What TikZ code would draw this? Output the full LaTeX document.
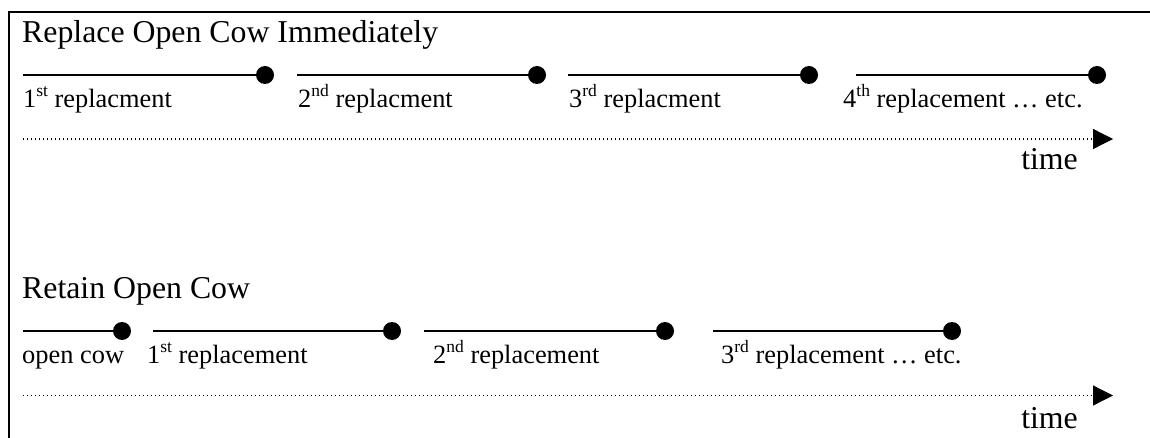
\documentclass[tikz,border=0pt]{standalone}
\usepackage{fontspec}
\setmainfont{Liberation Serif}
\usetikzlibrary{arrows.meta}
% ordinal suffix, raised and set smaller
\newcommand\ordsup[1]{\raisebox{11pt}{\fontsize{17.5}{18}\selectfont #1}}

\begin{document}
\begin{tikzpicture}[x=1pt,y=-1pt,
  heading/.style={anchor=base west, inner sep=0pt, font=\fontsize{31.8}{36}\selectfont},
  lbl/.style={anchor=base west, inner sep=0pt, font=\fontsize{26.4}{30}\selectfont},
  timelbl/.style={anchor=base east, inner sep=0pt, font=\fontsize{31.8}{36}\selectfont},
  seg/.style={line width=1.8pt},
  endpt/.style={circle, fill=black, inner sep=0pt, minimum size=18pt},
  axis/.style={line width=1.2pt, dash pattern=on 1.2pt off 2.8pt,
               -{Triangle[length=20pt,width=20pt]}},
  frameline/.style={line width=2pt, line join=miter}]
\useasboundingbox (0,0) rectangle (1150,438);

% frame (top and left edges)
\coordinate (fbl) at (8.5,438);
\coordinate (ftl) at (8.5,12);
\coordinate (ftr) at (1150,12);
\draw[frameline] (fbl) -- (ftl) -- (ftr);

% ---------- Replace open cow immediately ----------
\node[heading] (h1) at (22,43) {Replace Open Cow Immediately};

\coordinate (a1) at (23,75);  \node[endpt] (b1) at (265,75) {};
\coordinate (a2) at (297,75); \node[endpt] (b2) at (537,75) {};
\coordinate (a3) at (568,75); \node[endpt] (b3) at (809,75) {};
\coordinate (a4) at (856,75); \node[endpt] (b4) at (1097,75) {};
\foreach \i in {1,...,4} \draw[seg] (a\i) -- (b\i.center);

\node[lbl] (la1) at (23,108)  {1\ordsup{st} replacment};
\node[lbl] (la2) at (298,108) {2\ordsup{nd} replacment};
\node[lbl] (la3) at (569,108) {3\ordsup{rd} replacment};
\node[lbl] (la4) at (843,108) {4\ordsup{th} replacement … etc.};

\coordinate (ts1) at (23,139);
\coordinate (te1) at (1113,139);
\draw[axis] (ts1) -- (te1);
\node[timelbl] (tm1) at (1078,170) {time};

% ---------- Retain open cow ----------
\node[heading] (h2) at (22,298) {Retain Open Cow};

\coordinate (c1) at (23,331);  \node[endpt] (d1) at (122,331) {};
\coordinate (c2) at (153,331); \node[endpt] (d2) at (392,331) {};
\coordinate (c3) at (424,331); \node[endpt] (d3) at (665,331) {};
\coordinate (c4) at (713,331); \node[endpt] (d4) at (952,331) {};
\foreach \i in {1,...,4} \draw[seg] (c\i) -- (d\i.center);

\node[lbl] (lc1) at (22,363)  {open cow};
\node[lbl] (lc2) at (147,363) {1\ordsup{st} replacement};
\node[lbl] (lc3) at (433,363) {2\ordsup{nd} replacement};
\node[lbl] (lc4) at (721,363) {3\ordsup{rd} replacement … etc.};

\coordinate (ts2) at (23,395.5);
\coordinate (te2) at (1113,395.5);
\draw[axis] (ts2) -- (te2);
\node[timelbl] (tm2) at (1078,428) {time};
\end{tikzpicture}
\end{document}
